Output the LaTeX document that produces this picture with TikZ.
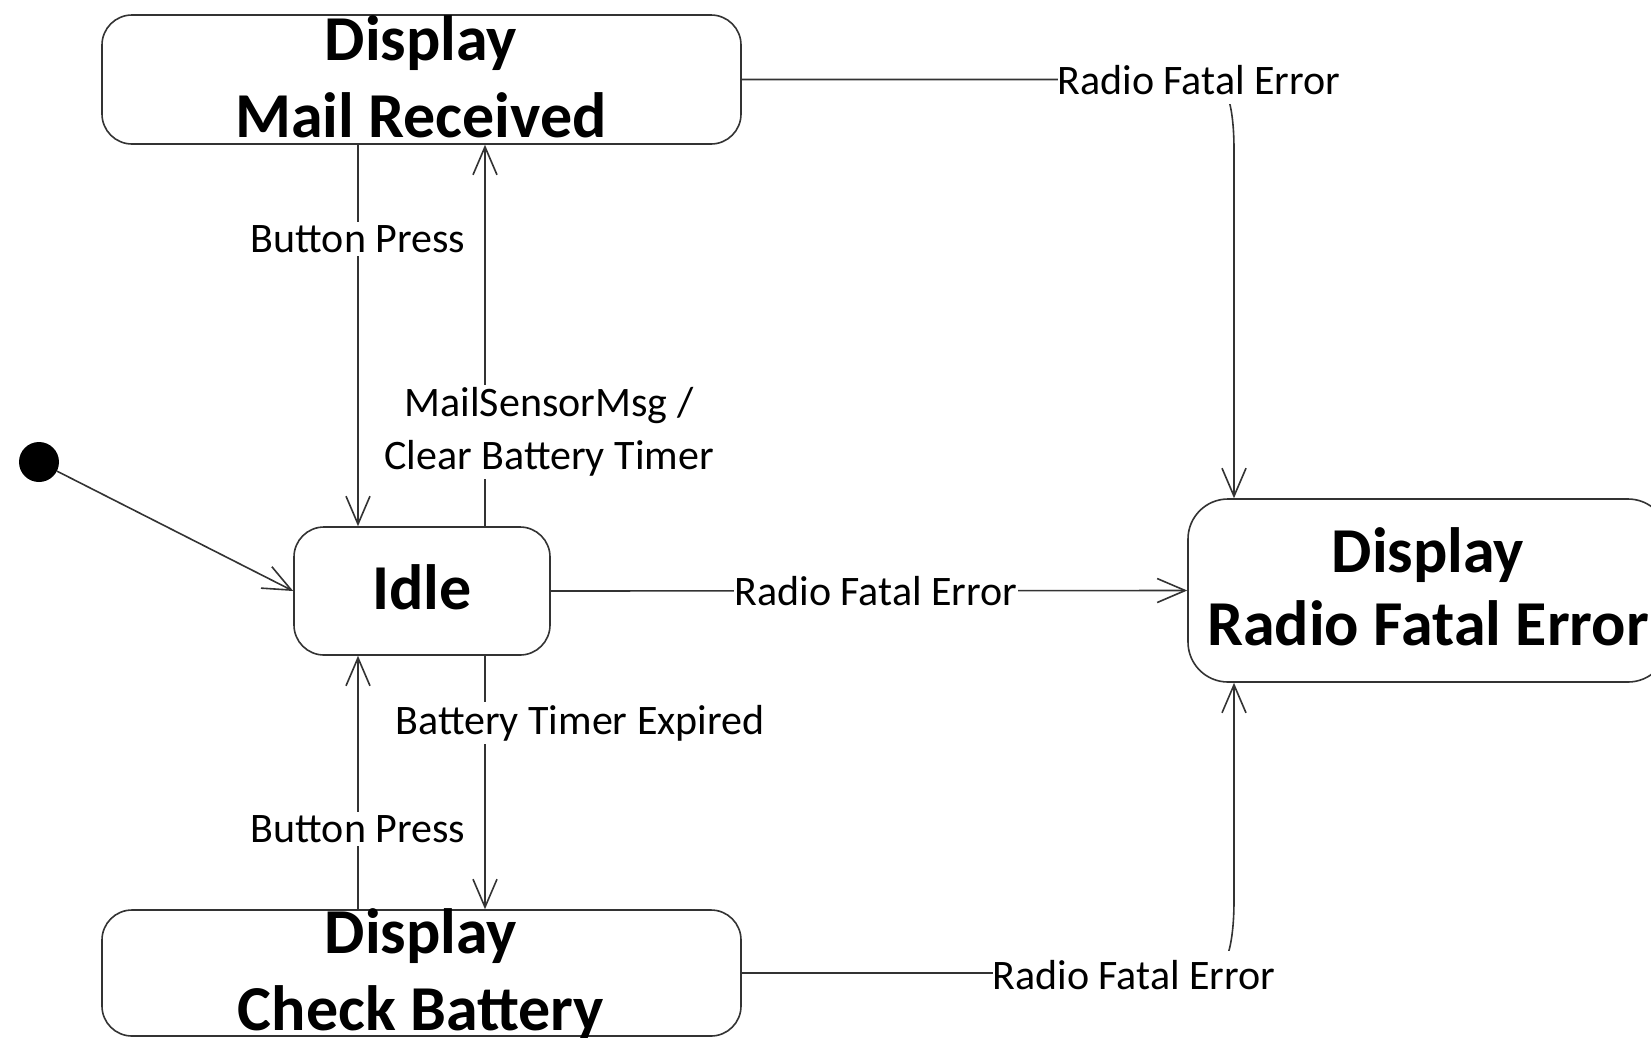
\documentclass[tikz,border=0pt]{standalone}
\usepackage{fontspec}
\setmainfont{Carlito}
\usetikzlibrary{arrows.meta}
\begin{document}
\begin{tikzpicture}[x=1pt,y=-1pt,
  state/.style={draw=black!80, line width=1.6pt, rounded corners=30pt, inner sep=0pt},
  title/.style={font=\fontsize{64}{77}\selectfont\bfseries, anchor=base, inner sep=0pt},
  lbl/.style={font=\fontsize{42}{53}\selectfont, fill=white, inner xsep=1pt, inner ysep=3pt, align=center},
  trans/.style={draw=black!80, line width=1.6pt, -{Straight Barb[length=28pt,width=24pt,line width=1.6pt]}},
  plain/.style={draw=black!80, line width=1.6pt}]
\useasboundingbox (0,0) rectangle (1651,1037);
\clip (0,0) rectangle (1651,1037);
\fill[white] (0,0) rectangle (1651,1037);

% states
\node[state, minimum width=639pt, minimum height=129pt] (mail) at (421.5,79.5) {};
\node[state, minimum width=256pt, minimum height=128pt] (idle) at (422,591) {};
\node[state, minimum width=639pt, minimum height=126pt] (check) at (421.5,973) {};
\node[state, rounded corners=40pt, minimum width=480pt, minimum height=183pt] (radio) at (1428,590.5) {};
\node[fill=black, circle, minimum size=40pt, inner sep=0pt] (init) at (39,462) {};

% titles
\node[title] (mailT1) at (421,60) {Display};
\node[title] (mailT2) at (421,137) {Mail Received};
\node[title] (idleT) at (422,609) {Idle};
\node[title] (radioT1) at (1428,572) {Display};
\node[title] (radioT2) at (1428,645) {Radio Fatal Error};
\node[title] (checkT1) at (421,953) {Display};
\node[title] (checkT2) at (421,1030) {Check Battery};

% helper coordinates
\coordinate (xL) at (358,0);
\coordinate (xR) at (485,0);
\coordinate (m1) at (1212,79.5);
\coordinate (m2) at (1234,150);
\coordinate (c1) at (1212,973);
\coordinate (c2) at (1234,900);

% transitions
\draw[trans] (mail.south -| xL) -- (idle.north -| xL);
\draw[trans] (idle.north -| xR) -- (mail.south -| xR);
\draw[trans] (idle.south -| xR) -- (check.north -| xR);
\draw[trans] (check.north -| xL) -- (idle.south -| xL);
\draw[trans] (init) -- (idle.west);
\draw[trans] (idle.east) -- (radio.west);
\draw[trans] (mail.east) -- (m1) .. controls (1226,80) and (1234,105) .. (m2) -- (radio.north -| m2);
\draw[trans] (check.east) -- (c1) .. controls (1226,972.5) and (1234,945) .. (c2) -- (radio.south -| c2);

% labels
\node[lbl] (lbBP1) at (358,239) {Button Press};
\node[lbl] (lbMS) at (549,432) {MailSensorMsg /\\Clear Battery Timer};
\node[lbl] (lbRF1) at (876,591) {Radio Fatal Error};
\node[lbl] (lbBT) at (580,723) {Battery Timer Expired};
\node[lbl] (lbBP2) at (358,829) {Button Press};
\node[lbl, inner xsep=0pt, inner ysep=9pt] (lbRF2) at (1199,80) {Radio Fatal Error};
\node[lbl, inner xsep=0pt, inner ysep=9pt] (lbRF3) at (1134,975) {Radio Fatal Error};
\end{tikzpicture}
\end{document}
